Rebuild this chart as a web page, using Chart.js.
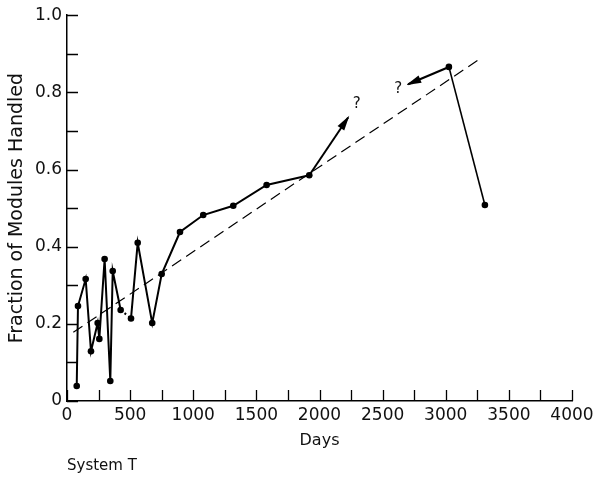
<!DOCTYPE html>
<html>
<head>
<meta charset="utf-8">
<title>System T</title>
<script src="https://cdn.jsdelivr.net/npm/chart.js@4.4.1/dist/chart.umd.min.js"></script>
<style>
  body { margin: 0; background: #fff; }
  #wrap { position: relative; width: 602px; height: 479px; }
  canvas { display: block; }
  #caption {
    position: absolute; left: 67px; top: 456px;
    font: 15px "DejaVu Sans", sans-serif; color: #111;
  }
</style>
</head>
<body>
<div id="wrap">
  <canvas id="myChart" width="602" height="479"></canvas>
  <div id="caption">System T</div>
</div>
<script>
// main trace, in the order the points are joined
const days = [77, 87, 148, 190, 243, 256, 298, 343, 362, 425, 507, 560, 675, 750, 895, 1079, 1317, 1581, 1919];
const fraction = [0.039, 0.246, 0.316, 0.129, 0.202, 0.161, 0.368, 0.052, 0.337, 0.236, 0.214, 0.410, 0.202, 0.329, 0.438, 0.482, 0.506, 0.560, 0.585];

// last two observations
const lateDays = [3025, 3310];
const lateFraction = [0.866, 0.508];

// arrows toward the fitted line
const arrowUpDays = [1919, 2227];
const arrowUpFraction = [0.585, 0.735];
const arrowBackDays = [3025, 2702];
const arrowBackFraction = [0.866, 0.821];

// dashed fitted line
const trendDays = [50, 3262];
const trendFraction = [0.178, 0.885];

// "?" marks next to arrow heads
const queryDays = [2294, 2623];
const queryFraction = [0.769, 0.808];

const xMin = 0, xMax = 4000, xStep = 500;
const yMin = 0, yMax = 1, yStep = 0.2;

const ink = '#111';
const font = '"DejaVu Sans", sans-serif';

const toPoints = (xs, ys) => xs.map((d, i) => ({ x: d, y: ys[i] }));

// ticks drawn inside the plot, like the original figure
const innerTicks = {
    id: 'innerTicks',
    afterDraw(chart) {
        const { ctx, scales: { x, y } } = chart;
        ctx.save();
        ctx.strokeStyle = '#000';
        ctx.lineWidth = 1.3;
        ctx.beginPath();
        for (let v = yMin; v <= yMax + 1e-6; v += yStep / 2) {
            const py = Math.round(y.getPixelForValue(v)) + 0.5;
            ctx.moveTo(x.left, py);
            ctx.lineTo(x.left + 11, py);
        }
        for (let d = xMin; d <= xMax; d += xStep / 2) {
            const px = Math.round(x.getPixelForValue(d)) + 0.5;
            ctx.moveTo(px, y.bottom);
            ctx.lineTo(px, y.bottom - 11);
        }
        ctx.stroke();
        ctx.restore();
    }
};

const arrowHeads = {
    id: 'arrowHeads',
    afterDatasetsDraw(chart) {
        const { ctx } = chart;
        chart.data.datasets.forEach((ds, i) => {
            if (!ds.arrowHead) return;
            const pts = chart.getDatasetMeta(i).data;
            const a = pts[pts.length - 2], b = pts[pts.length - 1];
            const ang = Math.atan2(b.y - a.y, b.x - a.x);
            ctx.save();
            ctx.translate(b.x, b.y);
            ctx.rotate(ang);
            ctx.fillStyle = '#000';
            ctx.beginPath();
            ctx.moveTo(2, 0);
            ctx.lineTo(-13, -4);
            ctx.lineTo(-13, 4);
            ctx.closePath();
            ctx.fill();
            ctx.restore();
        });
    }
};

const queryMarks = {
    id: 'queryMarks',
    afterDatasetsDraw(chart) {
        const { ctx, scales: { x, y } } = chart;
        ctx.save();
        ctx.fillStyle = ink;
        ctx.font = '15px ' + font;
        ctx.textAlign = 'center';
        ctx.textBaseline = 'middle';
        queryDays.forEach((d, i) => {
            ctx.fillText('?', x.getPixelForValue(d), y.getPixelForValue(queryFraction[i]));
        });
        ctx.restore();
    }
};

new Chart(document.getElementById('myChart'), {
    type: 'scatter',
    data: {
        datasets: [
            {
                label: 'trend',
                data: toPoints(trendDays, trendFraction),
                showLine: true,
                borderColor: '#000',
                borderWidth: 1.2,
                borderDash: [11, 6],
                pointRadius: 0
            },
            {
                label: 'modules',
                data: toPoints(days, fraction),
                showLine: true,
                borderColor: '#000',
                borderWidth: 2,
                backgroundColor: '#000',
                pointRadius: 3.3,
                pointBorderWidth: 0,
                segment: {
                    // the short link around 450 days is dotted
                    borderDash: ctx => ctx.p0DataIndex === 9 ? [2, 3] : undefined
                }
            },
            {
                label: 'late',
                data: toPoints(lateDays, lateFraction),
                showLine: true,
                borderColor: '#000',
                borderWidth: 1.6,
                backgroundColor: '#000',
                pointRadius: 3.3,
                pointBorderWidth: 0
            },
            {
                label: 'arrow up',
                data: toPoints(arrowUpDays, arrowUpFraction),
                showLine: true,
                borderColor: '#000',
                borderWidth: 2,
                pointRadius: 0,
                arrowHead: true
            },
            {
                label: 'arrow back',
                data: toPoints(arrowBackDays, arrowBackFraction),
                showLine: true,
                borderColor: '#000',
                borderWidth: 2.2,
                pointRadius: 0,
                arrowHead: true
            }
        ]
    },
    options: {
        responsive: false,
        animation: false,
        layout: { padding: { top: 12, right: 30, bottom: 0, left: 0 } },
        plugins: {
            legend: { display: false },
            tooltip: { enabled: false }
        },
        scales: {
            x: {
                type: 'linear',
                min: xMin,
                max: xMax,
                afterFit: s => { s.height = 78; },
                grid: { display: false, drawTicks: false },
                border: { display: true, color: '#000', width: 1.5 },
                ticks: {
                    stepSize: xStep,
                    padding: 4,
                    color: ink,
                    font: { family: font, size: 17 },
                    maxRotation: 0,
                    callback: v => String(v)
                },
                title: {
                    display: true,
                    text: 'Days',
                    color: ink,
                    font: { family: font, size: 16 },
                    padding: { top: 0, bottom: 29 }
                }
            },
            y: {
                type: 'linear',
                min: yMin,
                max: yMax,
                afterFit: s => { s.width = 67; },
                grid: { display: false, drawTicks: false },
                border: { display: true, color: '#000', width: 1.5 },
                ticks: {
                    stepSize: yStep,
                    padding: 5,
                    color: ink,
                    font: { family: font, size: 17 },
                    callback: v => v === 0 ? '0' : v.toFixed(1)
                },
                title: {
                    display: true,
                    text: 'Fraction of Modules Handled',
                    color: ink,
                    font: { family: font, size: 19 },
                    padding: { top: 6 }
                }
            }
        }
    },
    plugins: [innerTicks, arrowHeads, queryMarks]
});
</script>
</body>
</html>
